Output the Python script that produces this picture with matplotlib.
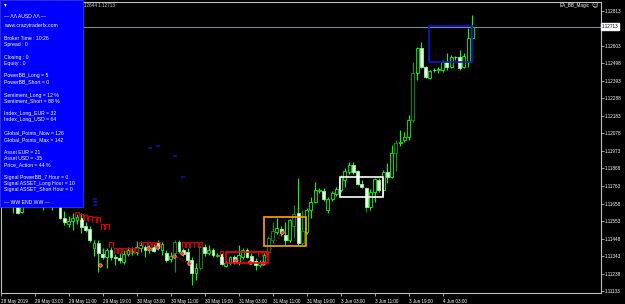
#!/usr/bin/env python3
"""EURUSD H1 chart with EA_BB_Magic info panel (MT4 style)."""

import matplotlib

matplotlib.use("Agg")
import matplotlib.pyplot as plt
from matplotlib.patches import Rectangle

# --- data ---------------------------------------------------------------
opens = [
    1.11859, 1.11829, 1.11799, 1.11763, 1.11709, 1.11607, 1.11679, 1.11703, 1.11739, 1.11715,
    1.11691, 1.11667, 1.11685, 1.11655, 1.11643, 1.11571, 1.11535, 1.11553, 1.11559, 1.11571,
    1.11523, 1.11505, 1.11391, 1.11421, 1.11356, 1.11338, 1.11380, 1.11338, 1.11332, 1.11308,
    1.11356, 1.11368, 1.11368, 1.11391, 1.11397, 1.11380, 1.11397, 1.11421, 1.11380, 1.11362,
    1.11326, 1.11362, 1.11427, 1.11380, 1.11368, 1.11320, 1.11242, 1.11272, 1.11397, 1.11362,
    1.11380, 1.11344, 1.11356, 1.11284, 1.11302, 1.11338, 1.11302, 1.11338, 1.11380, 1.11344,
    1.11314, 1.11290, 1.11308, 1.11368, 1.11439, 1.11487, 1.11505, 1.11469, 1.11439, 1.11523,
    1.11601, 1.11421, 1.11487, 1.11619, 1.11667, 1.11733, 1.11733, 1.11619, 1.11685, 1.11715,
    1.11739, 1.11799, 1.11847, 1.11889, 1.11853, 1.11775, 1.11751, 1.11637, 1.11727, 1.11799,
    1.11739, 1.11847, 1.11817, 1.11961, 1.12020, 1.12038, 1.12056, 1.12158, 1.12440, 1.12589,
    1.12476, 1.12410, 1.12458, 1.12458, 1.12458, 1.12506, 1.12476, 1.12536, 1.12536, 1.12476,
    1.12506, 1.12649,
]
highs = [
    1.11889, 1.11847, 1.11811, 1.11775, 1.11727, 1.11691, 1.11727, 1.11763, 1.11763, 1.11739,
    1.11709, 1.11703, 1.11703, 1.11679, 1.11649, 1.11613, 1.11583, 1.11601, 1.11595, 1.11601,
    1.11547, 1.11523, 1.11439, 1.11439, 1.11391, 1.11391, 1.11397, 1.11356, 1.11362, 1.11380,
    1.11397, 1.11397, 1.11433, 1.11433, 1.11409, 1.11409, 1.11415, 1.11439, 1.11427, 1.11380,
    1.11368, 1.11439, 1.11439, 1.11391, 1.11391, 1.11338, 1.11302, 1.11403, 1.11415, 1.11409,
    1.11391, 1.11362, 1.11362, 1.11314, 1.11344, 1.11350, 1.11409, 1.11391, 1.11391, 1.11362,
    1.11332, 1.11320, 1.11362, 1.11463, 1.11547, 1.11571, 1.11523, 1.11547, 1.11565, 1.11649,
    1.11811, 1.11619, 1.11631, 1.11697, 1.11787, 1.11751, 1.11751, 1.11697, 1.11733, 1.11757,
    1.11829, 1.11871, 1.11907, 1.11907, 1.11859, 1.11799, 1.11757, 1.11745, 1.11811, 1.11811,
    1.11859, 1.11901, 1.12008, 1.12038, 1.12098, 1.12086, 1.12188, 1.12506, 1.12595, 1.12625,
    1.12482, 1.12458, 1.12470, 1.12476, 1.12518, 1.12560, 1.12548, 1.12542, 1.12578, 1.12560,
    1.12709, 1.12787,
]
lows = [
    1.11811, 1.11775, 1.11727, 1.11601, 1.11595, 1.11601, 1.11655, 1.11679, 1.11691, 1.11655,
    1.11619, 1.11643, 1.11619, 1.11637, 1.11565, 1.11529, 1.11517, 1.11499, 1.11535, 1.11481,
    1.11487, 1.11427, 1.11344, 1.11248, 1.11326, 1.11272, 1.11320, 1.11290, 1.11302, 1.11296,
    1.11344, 1.11350, 1.11350, 1.11368, 1.11338, 1.11362, 1.11368, 1.11380, 1.11350, 1.11308,
    1.11308, 1.11248, 1.11362, 1.11344, 1.11290, 1.11170, 1.11200, 1.11260, 1.11344, 1.11350,
    1.11338, 1.11338, 1.11290, 1.11278, 1.11290, 1.11296, 1.11290, 1.11326, 1.11332, 1.11296,
    1.11260, 1.11278, 1.11296, 1.11356, 1.11421, 1.11475, 1.11463, 1.11409, 1.11427, 1.11451,
    1.11409, 1.11409, 1.11475, 1.11571, 1.11661, 1.11721, 1.11673, 1.11601, 1.11673, 1.11703,
    1.11727, 1.11757, 1.11835, 1.11835, 1.11769, 1.11751, 1.11607, 1.11619, 1.11667, 1.11727,
    1.11709, 1.11781, 1.11811, 1.11853, 1.12002, 1.12026, 1.12038, 1.12146, 1.12398, 1.12470,
    1.12410, 1.12404, 1.12446, 1.12440, 1.12446, 1.12458, 1.12470, 1.12518, 1.12458, 1.12470,
    1.12476, 1.12643,
]
closes = [
    1.11829, 1.11799, 1.11763, 1.11709, 1.11601, 1.11679, 1.11703, 1.11739, 1.11715, 1.11691,
    1.11667, 1.11685, 1.11655, 1.11643, 1.11571, 1.11547, 1.11553, 1.11571, 1.11577, 1.11517,
    1.11499, 1.11439, 1.11421, 1.11362, 1.11338, 1.11380, 1.11338, 1.11332, 1.11320, 1.11356,
    1.11380, 1.11374, 1.11397, 1.11409, 1.11380, 1.11391, 1.11374, 1.11391, 1.11415, 1.11320,
    1.11344, 1.11427, 1.11374, 1.11356, 1.11320, 1.11242, 1.11272, 1.11397, 1.11362, 1.11380,
    1.11350, 1.11350, 1.11296, 1.11302, 1.11338, 1.11308, 1.11350, 1.11380, 1.11338, 1.11308,
    1.11290, 1.11308, 1.11350, 1.11451, 1.11493, 1.11511, 1.11481, 1.11439, 1.11559, 1.11595,
    1.11421, 1.11493, 1.11619, 1.11667, 1.11739, 1.11739, 1.11685, 1.11685, 1.11721, 1.11745,
    1.11817, 1.11853, 1.11889, 1.11847, 1.11775, 1.11757, 1.11637, 1.11727, 1.11805, 1.11739,
    1.11847, 1.11817, 1.11961, 1.12020, 1.12026, 1.12056, 1.12158, 1.12440, 1.12589, 1.12476,
    1.12416, 1.12452, 1.12455, 1.12464, 1.12506, 1.12476, 1.12536, 1.12533, 1.12470, 1.12542,
    1.12649, 1.12713,
]
dark_bars = [41, 47, 63, 64, 69, 71, 86, 93, 97]

bid = 1.12713
price_ticks = [1.11133, 1.11238, 1.11343, 1.11448, 1.11553, 1.11658, 1.11763, 1.11868,
               1.11973, 1.12078, 1.12183, 1.12288, 1.12393, 1.12498, 1.12603, 1.12813]
time_ticks = [0, 8, 16, 24, 32, 40, 48, 56, 64, 72, 80, 88, 96, 104]
time_labels = ["28 May 2019", "29 May 03:00", "29 May 11:00", "29 May 19:00",
               "30 May 03:00", "30 May 11:00", "30 May 19:00", "31 May 03:00",
               "31 May 11:00", "31 May 19:00", "3 Jun 03:00", "3 Jun 11:00",
               "3 Jun 19:00", "4 Jun 03:00"]

# indicator marks
red_cap_bars = [18, 19, 20, 21, 22, 23, 24, 25, 26, 27, 28, 29, 30, 31, 32,
                33, 34, 35, 36, 37, 43, 44, 45, 46, 47, 52, 61, 62]
red_cap_top = [1.11607, 1.11595, 1.11589, 1.11583, 1.11577, 1.11577, 1.11535, 1.11535,
               1.11427, 1.11391, 1.11391, 1.11391, 1.11391, 1.11391, 1.11391,
               1.11427, 1.11427, 1.11427, 1.11427, 1.11427, 1.11427, 1.11427, 1.11427,
               1.11427, 1.11427, 1.11374, 1.11374, 1.11374]
red_dot_x = [23.4, 34.7, 36.8, 40.8, 42.7, 44.3, 55.2, 58.7, 61.7, 66.2]
red_dot_y = [1.11290, 1.11391, 1.11397, 1.11344, 1.11362, 1.11302, 1.11320, 1.11308,
             1.11302, 1.11487]
red_path_x = [40.8, 44.3, None, 55.2, 58.7, 61.7, 66.2]
red_path_y = [1.11344, 1.11302, None, 1.11320, 1.11308, 1.11302, 1.11487]
blue_dash_x = [35.2, 37.0, 41.0, 42.9, 22.2, 22.2, 22.2]
blue_dash_y = [1.11990, 1.12002, 1.11943, 1.11817, 1.11685, 1.11667, 1.11649]

# (x0, x1, y0, y1, colour)
zones = [
    (53.0, 62.9, 1.11302, 1.11368, "#ff0000"),
    (62.0, 71.9, 1.11403, 1.11577, "#ffa500"),
    (79.9, 90.0, 1.11697, 1.11817, "#ffffff"),
    (100.8, 110.9, 1.12506, 1.12721, "#1414d2"),
]

panel_lines = [
    "\u2014 \u039b\u039b AUSD \u039b\u039b \u2014",
    "www.crazytraderfx.com",
    "Broker Time : 10:26",
    "Spread : 0",
    "Closing : 0",
    "Equity : 0",
    "PowerBB_Long = 5",
    "PowerBB_Short = 0",
    "Sentiment_Long = 12 %",
    "Sentiment_Short = 88 %",
    "Index_Long_EUR = 32",
    "Index_Long_USD = 64",
    "Global_Points_Now = 126",
    "Global_Points_Max = 142",
    "Asset EUR = 21",
    "Asset USD = -35",
    "Price_Action = 44 %",
    "Signal PowerBB_7 Hour = 0",
    "Signal ASSET_Long Hour = 10",
    "Signal ASSET_Short Hour = 0",
    "\u2014 WW END WW \u2014",
]
panel_rows = [16, 25, 38, 44.5, 57, 63, 76, 82, 95, 101, 114, 120, 133, 139.5,
              152.5, 158.5, 164.5, 177.5, 183.5, 189.5, 203]

W, H = 625, 304
FONT = "Liberation Sans"
GREY = "#c0c0c0"


def fx(px):
    return px / W


def fy(py):
    return 1 - py / H


fig = plt.figure(figsize=(W / 100, H / 100), dpi=100, facecolor="black")
ax = fig.add_axes([fx(0.5), fy(293), fx(600.5) - fx(0.5), fy(1.5) - fy(293)])
ax.set_facecolor("black")
ax.set_xlim(-0.02, 141.15)
ax.set_ylim(1.11122, 1.12868)
for s in ax.spines.values():
    s.set_color(GREY)
    s.set_linewidth(0.8)

# bid line
ax.axhline(bid, color="#778899", lw=0.8, zorder=1)

# candles
for i in range(len(opens)):
    o, h, l, c = opens[i], highs[i], lows[i], closes[i]
    edge = "#00a000" if i in dark_bars else "#00ff00"
    ax.vlines(i, l, h, color=edge, lw=0.8, zorder=2)
    if c >= o:
        face, ecol = "black", edge
    else:
        face, ecol = "#f0fff0", "#90ff90"
    lo_b, hi_b = min(o, c), max(o, c)
    if hi_b - lo_b < 0.00002:
        ax.hlines(o, i - 0.35, i + 0.35, color=edge, lw=0.9, zorder=3)
    else:
        ax.add_patch(Rectangle((i - 0.33, lo_b), 0.66, hi_b - lo_b,
                               facecolor=face, edgecolor=ecol, lw=0.6, zorder=3))

# red "cap" markers of the indicator
cap_h = 0.0003
for b, t in zip(red_cap_bars, red_cap_top):
    ax.plot([b - 0.4, b - 0.4, b + 0.4, b + 0.4], [t - cap_h, t, t, t - cap_h],
            color="#d00000", lw=0.8, zorder=4)
ax.plot(red_path_x, red_path_y, color="#d00000", lw=0.9, ls=(0, (1, 1.5)), zorder=4)
ax.plot(red_dot_x, red_dot_y, ls="none", marker="o", ms=2.6,
        mfc="#ff3030", mec="#ffc0c0", mew=0.4, zorder=5)
ax.plot(blue_dash_x, blue_dash_y, ls="none", marker="_", ms=3, mew=1.2,
        color="#1010b0", zorder=4)

# zone rectangles
for x0, x1, y0, y1, col in zones:
    ax.add_patch(Rectangle((x0, y0), x1 - x0, y1 - y0, fill=False,
                           edgecolor=col, lw=1.2, zorder=6))

# axes ticks
ax.yaxis.tick_right()
ax.set_yticks(price_ticks)
ax.set_yticklabels([f"{p:.5f}" for p in price_ticks])
ax.set_xticks(time_ticks)
ax.set_xticklabels(time_labels, ha="left")
ax.tick_params(axis="y", colors=GREY, length=2, width=0.6, pad=1, labelsize=3.3,
               labelcolor="white")
ax.tick_params(axis="x", colors=GREY, length=2.5, width=0.6, pad=1.5, labelsize=3.3,
               labelcolor="white")
for lab in ax.get_xticklabels() + ax.get_yticklabels():
    lab.set_fontfamily(FONT)

# bid price tag
fig.text(fx(602), fy(26.5), f"{bid:.5f}", fontsize=3.3, family=FONT, color="black",
         va="center", ha="left",
         bbox=dict(boxstyle="square,pad=0.15", facecolor="white", edgecolor="white"))

# header texts
fig.text(fx(84), fy(5.5), "12644 1.12713", fontsize=3.3, family=FONT, color="#d0d0d0",
         va="center", ha="left")
fig.text(fx(590), fy(6), "EA_BB_Magic", fontsize=3.3, family=FONT, color="white",
         va="center", ha="right")
fig.text(fx(594.5), fy(6), "\u263a", fontsize=4.5, family="DejaVu Sans", color="white",
         va="center", ha="center")

# info panel
fig.add_artist(Rectangle((0, fy(207)), fx(83), 1 - fy(207), transform=fig.transFigure,
                         facecolor="#0000ff", edgecolor="#4040ff", lw=0.5, zorder=10))
fig.text(fx(4), fy(5), "\u25be", fontsize=4, family="DejaVu Sans", color="white",
         va="center", ha="left", zorder=11)
for line, row in zip(panel_lines, panel_rows):
    fig.text(fx(4), fy(row), line, fontsize=3.7, family=[FONT, "DejaVu Sans"],
             color="white", va="center", ha="left", zorder=11)

fig.savefig("out.png", dpi=100, facecolor="black")
